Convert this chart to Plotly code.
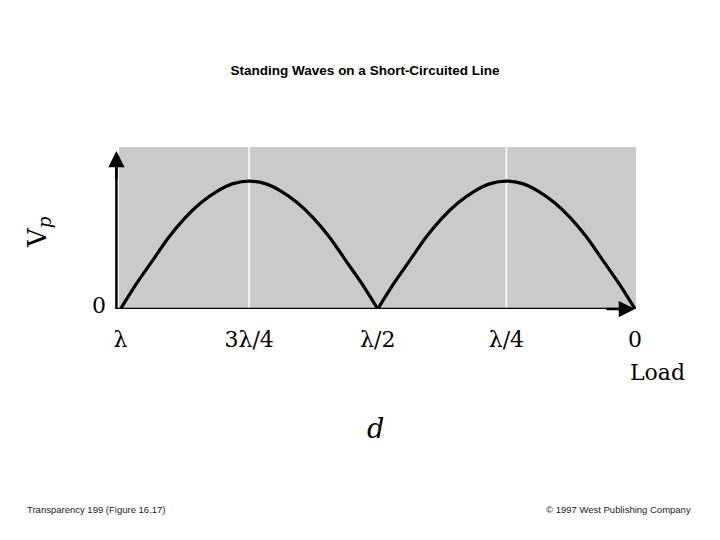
import plotly.graph_objects as go

# distance from load, in wavelengths
d_hump1 = [1.0, 0.96875, 0.9375, 0.90625, 0.875, 0.84375, 0.8125, 0.78125, 0.75,
           0.71875, 0.6875, 0.65625, 0.625, 0.59375, 0.5625, 0.53125, 0.5]
d_hump2 = [0.5, 0.46875, 0.4375, 0.40625, 0.375, 0.34375, 0.3125, 0.28125, 0.25,
           0.21875, 0.1875, 0.15625, 0.125, 0.09375, 0.0625, 0.03125, 0.0]
# relative voltage magnitude |Vp|
v_hump1 = [0.0, 0.20, 0.38, 0.56, 0.71, 0.83, 0.92, 0.98, 1.0,
           0.98, 0.92, 0.83, 0.71, 0.56, 0.38, 0.20, 0.0]
v_hump2 = [0.0, 0.20, 0.38, 0.56, 0.71, 0.83, 0.92, 0.98, 1.0,
           0.98, 0.92, 0.83, 0.71, 0.56, 0.38, 0.20, 0.0]

tick_vals = [1.0, 0.75, 0.5, 0.25, 0.0]
tick_text = ["λ", "3λ/4", "λ/2", "λ/4", "0"]
peak_d = [0.75, 0.25]

SERIF = "DejaVu Serif, Liberation Serif, serif"
SANS = "Liberation Sans, Arial, sans-serif"

# page offset (browser body margin) compensation
OFF = 8
PL, PR, PT, PB = 119, 636, 147, 309   # target plot box on screen
PW, PH = PR - PL, PB - PT

def px(x):
    return (x - PL) / PW

def py(y):
    return (PB - y) / PH

fig = go.Figure()
for xs, ys in [(d_hump1, v_hump1), (d_hump2, v_hump2)]:
    fig.add_trace(go.Scatter(x=xs, y=ys, mode="lines",
                             line=dict(color="black", width=3.2, shape="spline", smoothing=0.8),
                             hoverinfo="skip", showlegend=False, cliponaxis=False))

shapes = []
for p in peak_d:
    shapes.append(dict(type="line", xref="x", yref="y", x0=p, x1=p, y0=0, y1=1.27,
                       line=dict(color="#f2f2f2", width=2), layer="below"))
# x axis line
shapes.append(dict(type="line", xref="paper", yref="y", x0=-0.004, x1=0.97, y0=0, y1=0,
                   line=dict(color="black", width=2.5)))
# y axis line
shapes.append(dict(type="line", xref="paper", yref="y", x0=-0.005, x1=-0.005, y0=0, y1=1.15,
                   line=dict(color="black", width=2.5)))

annotations = [
    # arrow heads
    dict(x=-0.005, y=1.235, xref="paper", yref="y", ax=0, ay=30, axref="pixel", ayref="pixel",
         showarrow=True, arrowhead=2, arrowsize=1.3, arrowwidth=2.5, arrowcolor="black", text=""),
    dict(x=0.0, y=0, xref="x", yref="y", ax=-30, ay=0, axref="pixel", ayref="pixel",
         showarrow=True, arrowhead=2, arrowsize=1.3, arrowwidth=2.5, arrowcolor="black", text=""),
    dict(x=px(108), y=py(305), xref="paper", yref="paper", xanchor="right", yanchor="middle",
         text="0", showarrow=False, font=dict(family=SERIF, size=22, color="black")),
    dict(x=px(628), y=py(372), xref="paper", yref="paper", xanchor="left", yanchor="middle",
         text="Load", showarrow=False, font=dict(family=SERIF, size=22, color="black")),
    dict(x=px(38), y=py(232), xref="paper", yref="paper",
         xanchor="center", yanchor="middle", textangle=-90,
         text="V<sub><i>p</i></sub>", showarrow=False, font=dict(family=SERIF, size=26, color="black")),
    dict(x=px(375), y=py(428), xref="paper", yref="paper",
         xanchor="center", yanchor="middle",
         text="<i>d</i>", showarrow=False, font=dict(family=SERIF, size=27, color="black")),
    dict(x=px(25), y=py(510), xref="paper", yref="paper",
         xanchor="left", yanchor="middle",
         text="Transparency 199 (Figure 16.17)", showarrow=False,
         font=dict(family=SANS, size=9.5, color="#222222")),
    dict(x=px(693), y=py(510), xref="paper", yref="paper",
         xanchor="right", yanchor="middle",
         text="© 1997 West Publishing Company", showarrow=False,
         font=dict(family=SANS, size=9.5, color="#222222")),
]

fig.update_layout(
    width=720, height=540,
    margin=dict(l=PL - OFF, r=720 - (PR - OFF), t=PT - OFF, b=540 - (PB - OFF)),
    paper_bgcolor="white", plot_bgcolor="#cacaca",
    title=dict(text="<b>Standing Waves on a Short-Circuited Line</b>", x=(365 - OFF) / 720,
               xanchor="center", y=1 - (70 - OFF) / 540, yanchor="middle",
               font=dict(family=SANS, size=13.5, color="black")),
    xaxis=dict(range=[1.003, -0.002], tickvals=tick_vals, ticktext=tick_text,
               showgrid=False, zeroline=False, showline=False,
               ticks="outside", ticklen=11, tickcolor="rgba(0,0,0,0)",
               tickfont=dict(family=SERIF, size=22, color="black"), fixedrange=True),
    yaxis=dict(range=[0, 1.266], showticklabels=False, showgrid=False, zeroline=False,
               showline=False, ticks="", fixedrange=True),
    shapes=shapes, annotations=annotations, showlegend=False,
)

fig.write_html("out.html")
